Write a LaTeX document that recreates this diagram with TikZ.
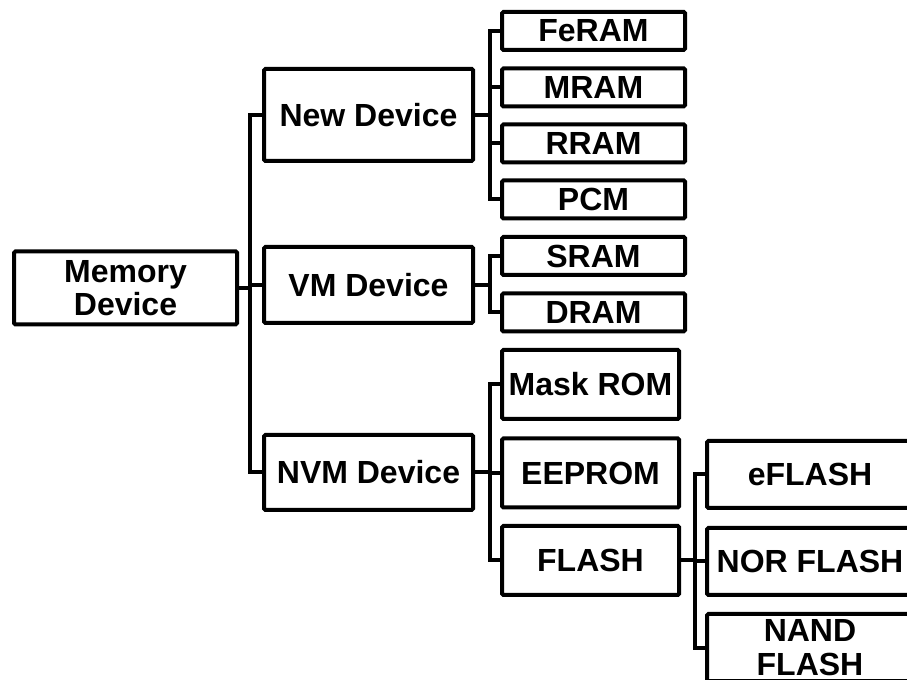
\documentclass[tikz,border=0pt]{standalone}
\usepackage{fontspec}
\setmainfont{Liberation Sans}
\usetikzlibrary{calc}

\begin{document}
\begin{tikzpicture}[x=0.75pt,y=-0.75pt,
    box/.style={draw,line width=3pt,rounded corners=1pt,inner sep=0pt,align=center,
      font=\fontsize{24}{25}\selectfont\bfseries},
    sz/.style 2 args={minimum width=#1*0.75pt,minimum height=#2*0.75pt},
    link/.style={line width=3pt}]
  \useasboundingbox (0,0) rectangle (907,680);
  % first level
  \node[box,sz={223}{73}] (mem) at (125.5,288) {Memory\\Device};
  \node[box,sz={209}{92}] (new) at (368.5,115) {New Device};
  \node[box,sz={209}{76}] (vm) at (368.5,285) {VM Device};
  \node[box,sz={209}{75}] (nvm) at (368.5,472.5) {NVM Device};
  % devices
  \node[box,sz={183}{38}] (feram) at (593.5,31) {FeRAM};
  \node[box,sz={183}{38}] (mram) at (593.5,87.5) {MRAM};
  \node[box,sz={183}{38}] (rram) at (593.5,143.5) {RRAM};
  \node[box,sz={183}{38}] (pcm) at (593.5,199.5) {PCM};
  \node[box,sz={183}{38}] (sram) at (593.5,256) {SRAM};
  \node[box,sz={183}{38}] (dram) at (593.5,312.5) {DRAM};
  \node[box,sz={177}{69}] (mask) at (590.5,384.5) {Mask ROM};
  \node[box,sz={177}{69}] (eeprom) at (590.5,473) {EEPROM};
  \node[box,sz={177}{69}] (flash) at (590.5,560.5) {FLASH};
  \node[box,sz={206}{67}] (eflash) at (810,474.5) {eFLASH};
  \node[box,sz={206}{67}] (nor) at (810,561.5) {NOR FLASH};
  \node[box,sz={206}{67}] (nand) at (810,647.5) {NAND\\FLASH};
  % trunks
  \coordinate (t0) at (250,0);
  \coordinate (t1) at (490,0);
  \coordinate (t2) at (695,0);
  \draw[link] (mem.east) -| (t0 |- new) -- (new.west);
  \draw[link] (mem.east) -| (t0 |- vm) -- (vm.west);
  \draw[link] (mem.east) -| (t0 |- nvm) -- (nvm.west);
  \draw[link] (new.east) -| (t1 |- feram) -- (feram.west);
  \draw[link] (new.east) -| (t1 |- mram) -- (mram.west);
  \draw[link] (new.east) -| (t1 |- rram) -- (rram.west);
  \draw[link] (new.east) -| (t1 |- pcm) -- (pcm.west);
  \draw[link] (vm.east) -| (t1 |- sram) -- (sram.west);
  \draw[link] (vm.east) -| (t1 |- dram) -- (dram.west);
  \draw[link] (nvm.east) -| (t1 |- mask) -- (mask.west);
  \draw[link] (nvm.east) -| (t1 |- eeprom) -- (eeprom.west);
  \draw[link] (nvm.east) -| (t1 |- flash) -- (flash.west);
  \draw[link] (flash.east) -| (t2 |- eflash) -- (eflash.west);
  \draw[link] (flash.east) -| (t2 |- nor) -- (nor.west);
  \draw[link] (flash.east) -| (t2 |- nand) -- (nand.west);
\end{tikzpicture}
\end{document}
